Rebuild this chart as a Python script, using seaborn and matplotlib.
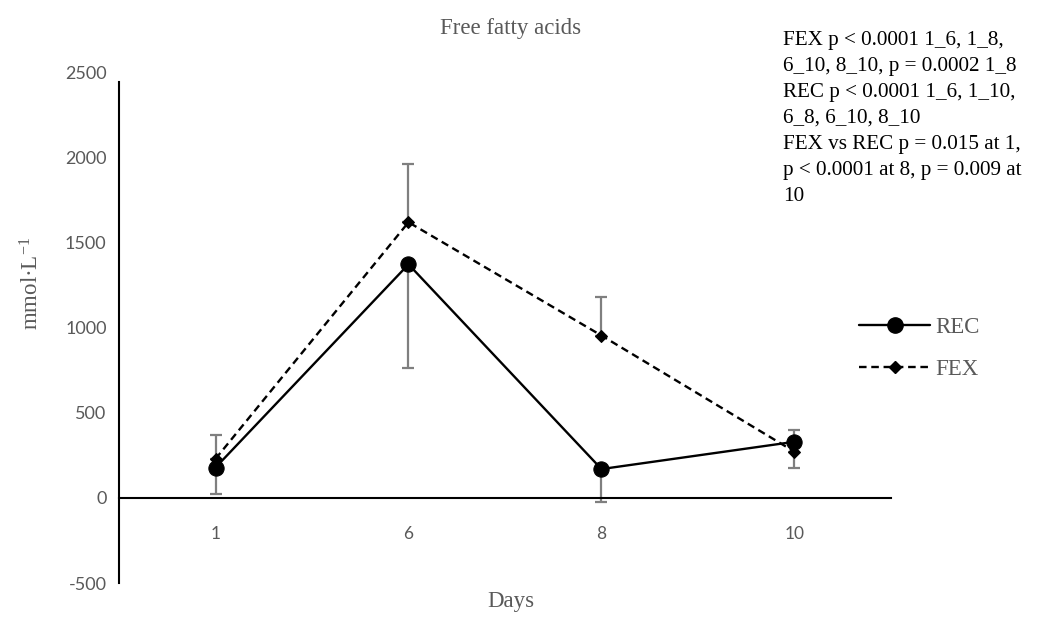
import matplotlib
matplotlib.use("Agg")
import matplotlib.pyplot as plt
import seaborn as sns
import pandas as pd
from matplotlib.lines import Line2D

# ---- data ----
days = ["1", "6", "8", "10"]
rec_values = [178, 1371, 169, 329]
rec_err_minus = [153, 606, 193, 153]
fex_values = [229, 1618, 953, 271]
fex_err_plus = [140, 341, 229, 129]
y_ticks = [-500, 0, 500, 1000, 1500, 2000, 2500]
stats_lines = [
    "FEX p < 0.0001 1_6, 1_8,",
    "6_10, 8_10, p = 0.0002 1_8",
    "REC p < 0.0001 1_6, 1_10,",
    "6_8, 6_10, 8_10",
    "FEX vs REC p = 0.015 at 1,",
    "p < 0.0001 at 8, p = 0.009 at",
    "10",
]

sns.set_theme(style="white")
plt.rcParams["font.family"] = ["Lato", "DejaVu Sans"]
plt.rcParams["mathtext.fontset"] = "custom"
plt.rcParams["mathtext.rm"] = "Liberation Serif"
plt.rcParams["mathtext.it"] = "Liberation Serif:italic"

SERIF = ["Liberation Serif", "DejaVu Serif"]
GRAY = "#595959"

pos = list(range(len(days)))
df = pd.DataFrame({
    "pos": pos * 2,
    "value": rec_values + fex_values,
    "series": ["REC"] * len(days) + ["FEX"] * len(days),
})

fig = plt.figure(figsize=(10.48, 6.23), dpi=100)
ax = fig.add_axes([0.1136, 0.0642, 0.7365, 0.8202])

# error bars (one-sided)
ax.errorbar(pos, rec_values, yerr=[rec_err_minus, [0] * len(days)], fmt="none",
            ecolor="#7f7f7f", elinewidth=1.6, capsize=4.5, capthick=1.6, zorder=1)
ax.errorbar(pos, fex_values, yerr=[[0] * len(days), fex_err_plus], fmt="none",
            ecolor="#7f7f7f", elinewidth=1.6, capsize=4.5, capthick=1.6, zorder=1)

sns.lineplot(data=df[df.series == "REC"], x="pos", y="value", ax=ax,
             color="black", linewidth=1.7, marker="o", markersize=11,
             markeredgecolor="black", markerfacecolor="black", zorder=3, legend=False)
sns.lineplot(data=df[df.series == "FEX"], x="pos", y="value", ax=ax,
             color="black", linewidth=1.7, linestyle=(0, (3.2, 2)), marker="D",
             markersize=6, markeredgecolor="black", markerfacecolor="black",
             zorder=2, legend=False)

ax.set_xlim(-0.5, 3.5)
ax.set_ylim(-500, 2500)
ax.set_xticks(pos)
ax.set_xticklabels(days)
ax.set_yticks(y_ticks)
ax.set_yticklabels([str(t) for t in y_ticks])
ax.tick_params(axis="x", length=0, pad=20, labelsize=12.5, labelcolor=GRAY)
ax.tick_params(axis="y", length=0, pad=9, labelsize=13, labelcolor=GRAY)

for s in ["top", "right"]:
    ax.spines[s].set_visible(False)
ax.spines["bottom"].set_position(("data", 0))
ax.spines["bottom"].set_color("black")
ax.spines["bottom"].set_linewidth(1.5)
ax.spines["left"].set_color("black")
ax.spines["left"].set_linewidth(1.5)
ax.spines["left"].set_bounds(-500, 2440)

ax.set_xlabel("")
ax.set_ylabel("")
fig.text(0.487, 0.955, "Free fatty acids", ha="center", va="center",
         fontsize=16.5, color=GRAY, family=SERIF)
fig.text(0.487, 0.035, "Days", ha="center", va="center",
         fontsize=16.5, color=GRAY, family=SERIF)
fig.text(0.03, 0.545, "mmol·L$^{-1}$", ha="center", va="center", rotation=90,
         fontsize=16.5, color=GRAY, family=SERIF)

fig.text(0.747, 0.951, "\n".join(stats_lines), ha="left", va="top",
         fontsize=15.2, color="black", family=SERIF, linespacing=1.5)

handles = [
    Line2D([0], [0], color="black", lw=1.7, marker="o", markersize=11),
    Line2D([0], [0], color="black", lw=1.7, linestyle=(0, (3.2, 2)), marker="D",
           markersize=6),
]
leg = fig.legend(handles, ["REC", "FEX"], loc="upper left",
                 bbox_to_anchor=(0.8, 0.525), frameon=False, handlelength=3.1,
                 labelspacing=0.95, prop={"family": SERIF, "size": 16.5},
                 handletextpad=0.25)
for t in leg.get_texts():
    t.set_color(GRAY)

fig.savefig("out.png", dpi=100)
